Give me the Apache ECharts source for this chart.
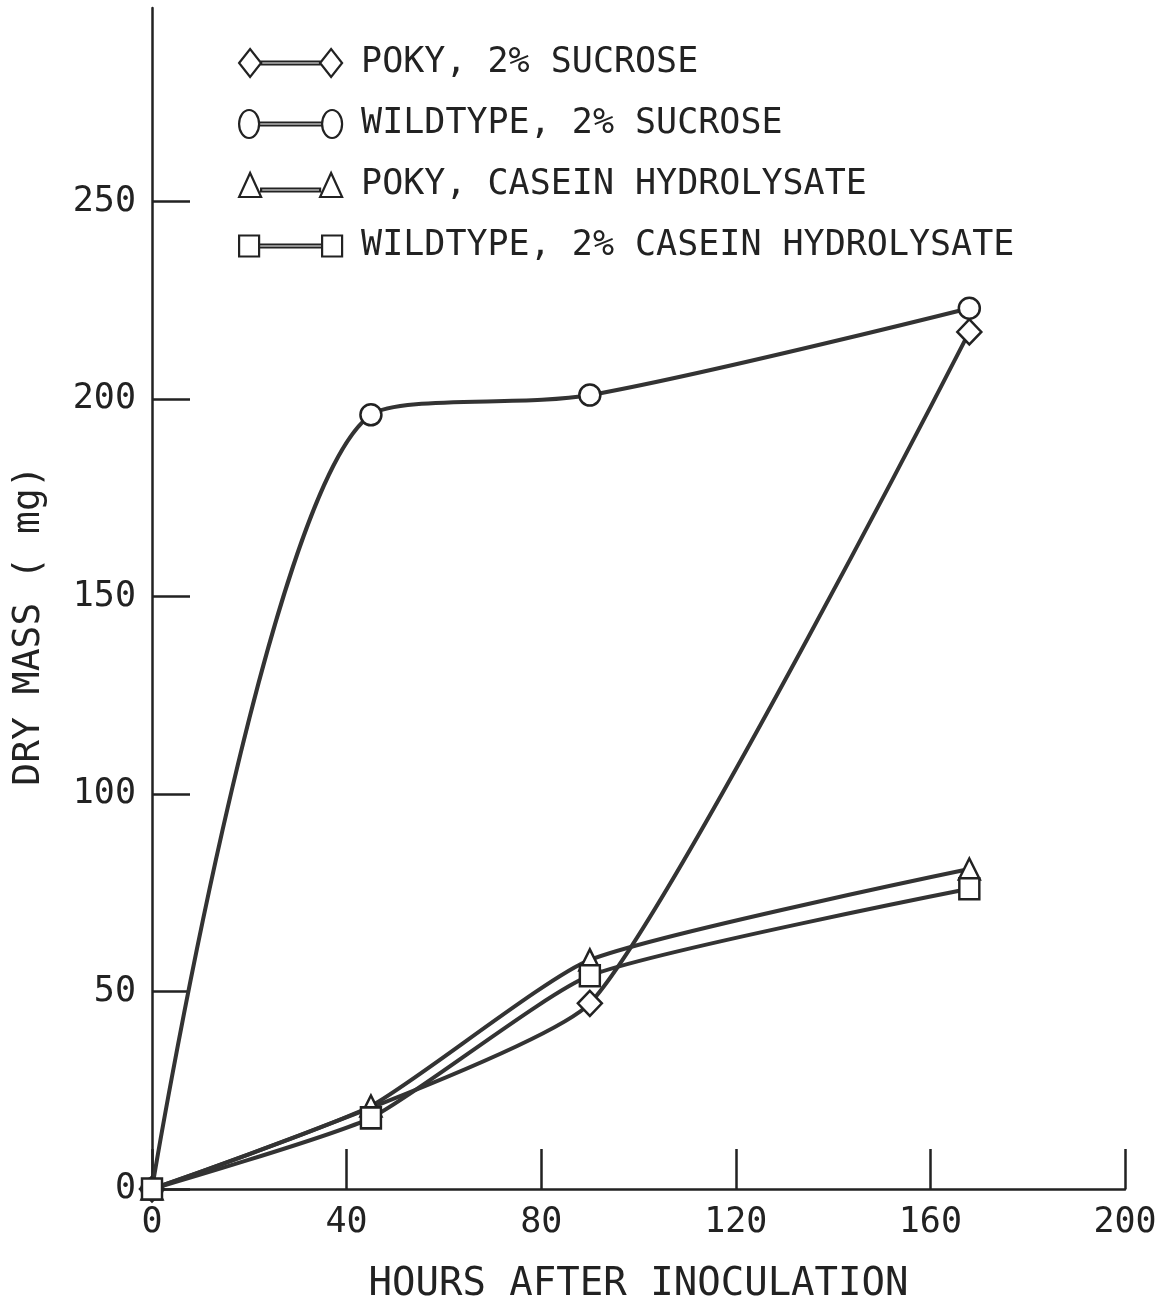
<!DOCTYPE html>
<html>
<head>
<meta charset="utf-8">
<script src="https://cdn.jsdelivr.net/npm/echarts@6/dist/echarts.min.js"></script>
<style>
html,body{margin:0;padding:0;background:#fff;}
#chart{width:1167px;height:1306px;}
</style>
</head>
<body>
<div id="chart"></div>
<script>
// ---- data ----
const seriesNames = [
  'POKY, 2% SUCROSE',
  'WILDTYPE, 2% SUCROSE',
  'POKY, CASEIN HYDROLYSATE',
  'WILDTYPE, 2% CASEIN HYDROLYSATE'
];
const pokySucroseHours = [0, 90, 168];
const pokySucroseMass = [0, 47, 217];
const wildSucroseHours = [0, 45, 90, 168];
const wildSucroseMass = [0, 196, 201, 223];
const pokyCaseinHours = [0, 45, 90, 168];
const pokyCaseinMass = [0, 21, 58, 81];
const wildCaseinHours = [0, 45, 90, 168];
const wildCaseinMass = [0, 18, 54, 76];
const xTicks = [0, 40, 80, 120, 160, 200];
const yTicks = [0, 50, 100, 150, 200, 250];
const xTitle = 'HOURS AFTER INOCULATION';
const yTitle = 'DRY MASS ( mg)';

// ---- build ----
const ink = '#222';
const FONT = "'DejaVu Sans Mono', monospace";
function pairs(xs, ys){ return xs.map((x,i)=>[x, ys[i]]); }

const symbols = ['diamond', 'circle', 'triangle', 'rect'];
const symbolSizes = [[24,25], 21, [21,21], [20,21]];
const legendIcons = [
  'path://M0,14L11,0L22,14L11,28ZM22,12.5L81,12.5L81,15.5L22,15.5ZM81,14L92,0L103,14L92,28Z',
  'path://M0,14A10,14 0 1,1 20,14A10,14 0 1,1 0,14ZM20,12.5L83,12.5L83,15.5L20,15.5ZM83,14A10,14 0 1,1 103,14A10,14 0 1,1 83,14Z',
  'path://M0,26L11,2L22,26ZM22,17.5L81,17.5L81,20.5L22,20.5ZM81,26L92,2L103,26Z',
  'path://M0,4L20,4L20,25L0,25ZM20,13L83,13L83,16L20,16ZM83,4L103,4L103,25L83,25Z'
];
const datasets = [
  pairs(pokySucroseHours, pokySucroseMass),
  pairs(wildSucroseHours, wildSucroseMass),
  pairs(pokyCaseinHours, pokyCaseinMass),
  pairs(wildCaseinHours, wildCaseinMass)
];
const smoothVals = [0.15, 0.3, 0.18, 0.18];

const series = datasets.map((d, i) => ({
  name: seriesNames[i],
  type: 'line',
  data: d,
  smooth: smoothVals[i],
  symbol: symbols[i],
  symbolSize: symbolSizes[i],
  showAllSymbol: true,
  lineStyle: { color: '#333', width: 4 },
  itemStyle: { color: '#fff', borderColor: ink, borderWidth: 2.5 },
  emphasis: { disabled: true },
  z: 2 + i
}));

const chart = echarts.init(document.getElementById('chart'), null, {renderer: 'canvas'});
chart.setOption({
  backgroundColor: '#fff',
  animation: false,
  textStyle: { fontFamily: FONT, color: ink },
  grid: { left: 152, right: 42, top: 8, bottom: 117, containLabel: false, outerBoundsMode: 'none' },
  legend: {
    orient: 'vertical',
    left: 233,
    top: 38,
    itemWidth: 103,
    itemHeight: 28,
    itemGap: 21,
    selectedMode: false,
    textStyle: { fontFamily: FONT, fontSize: 35, color: ink, lineHeight: 40, padding: [0, 0, 0, 14] },
    data: seriesNames.map((n, i) => ({
      name: n,
      icon: legendIcons[i],
      itemStyle: { color: '#fff', borderColor: ink, borderWidth: 2.2 }
    }))
  },
  xAxis: {
    type: 'value',
    min: 0, max: 200, interval: 40,
    name: xTitle,
    nameLocation: 'middle',
    nameGap: 76,
    nameTextStyle: { fontFamily: FONT, fontSize: 39, color: ink },
    axisLine: { show: true, onZero: false, lineStyle: { color: ink, width: 2.5 } },
    axisTick: { show: true, inside: true, length: 40, customValues: xTicks, lineStyle: { color: ink, width: 2.5 } },
    axisLabel: { show: true, customValues: xTicks, margin: 16, fontFamily: FONT, fontSize: 35, color: ink },
    splitLine: { show: false }
  },
  yAxis: {
    type: 'value',
    min: 0, max: 299, interval: 50,
    name: yTitle,
    nameLocation: 'middle',
    nameGap: 104,
    nameRotate: 90,
    nameTextStyle: { fontFamily: FONT, fontSize: 38, color: ink, padding: [0, 54, 0, 0] },
    axisLine: { show: true, onZero: false, lineStyle: { color: ink, width: 2.5 } },
    axisTick: { show: true, inside: true, length: 38, customValues: yTicks, lineStyle: { color: ink, width: 2.5 } },
    axisLabel: { show: true, customValues: yTicks, margin: 16, fontFamily: FONT, fontSize: 35, color: ink },
    splitLine: { show: false }
  },
  series: series
});
</script>
</body>
</html>
